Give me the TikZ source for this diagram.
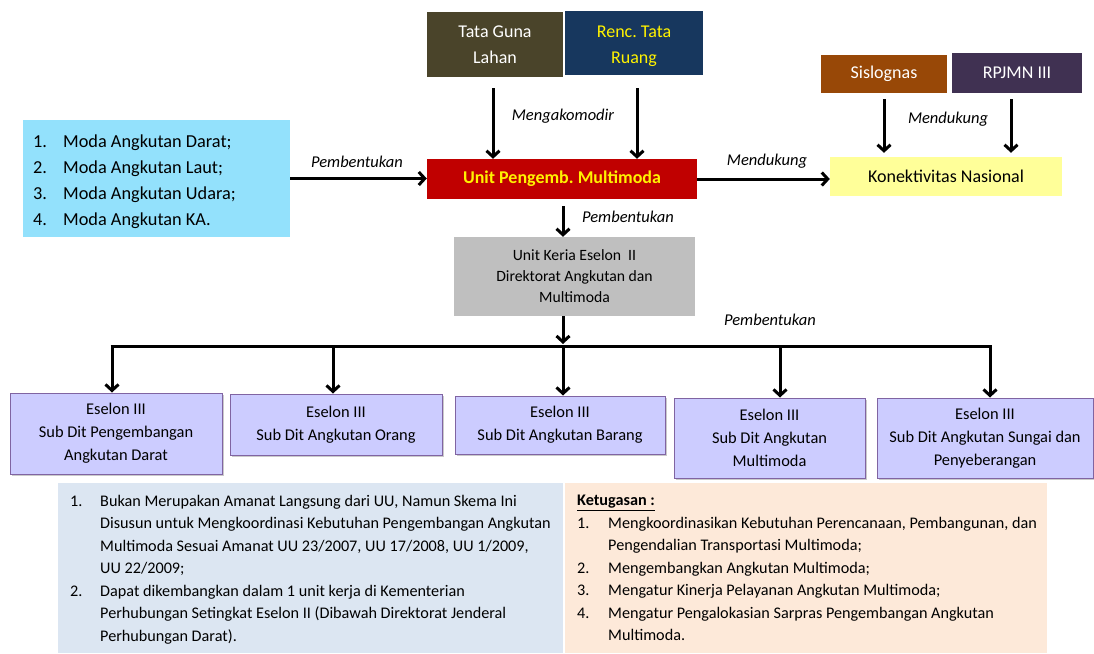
\documentclass[tikz,border=0pt]{standalone}
\usepackage{fontspec}
\setmainfont{Carlito}
\frenchspacing
\usetikzlibrary{arrows.meta,shadows}
\definecolor{olivebox}{RGB}{74,68,42}
\definecolor{navybox}{RGB}{23,55,94}
\definecolor{brownbox}{RGB}{152,72,7}
\definecolor{purplebox}{RGB}{64,49,82}
\definecolor{cyanbox}{RGB}{147,225,252}
\definecolor{redbox}{RGB}{192,0,0}
\definecolor{lightyellow}{RGB}{255,255,153}
\definecolor{graybox}{RGB}{191,191,191}
\definecolor{lavender}{RGB}{204,204,255}
\definecolor{lavborder}{RGB}{128,100,162}
\definecolor{paleblue}{RGB}{220,230,242}
\definecolor{palepeach}{RGB}{253,233,217}
\begin{document}
\begin{tikzpicture}[x=1pt,y=-1pt,
  box/.style={draw=none, inner sep=0pt, align=center, font=\fontsize{18}{26}\selectfont},
  esbox/.style={draw=lavborder, line width=1pt, fill=lavender, inner sep=0pt, align=center,
    font=\fontsize{16.4}{23}\selectfont,
    drop shadow={shadow xshift=2pt, shadow yshift=-2pt, fill=black!35, opacity=0.6}},
  arr/.style={line width=3pt, -{Straight Barb[length=6pt,width=13pt,line width=3pt]}},
  plain/.style={line width=3pt},
  lbl/.style={font=\fontsize{16.5}{18}\selectfont\itshape, inner sep=0pt}
]
\useasboundingbox (0,0) rectangle (1094,653);
% top boxes
\node[box, fill=olivebox, text=white, minimum width=136pt, minimum height=65pt] (tgl) at (495,44.5) {Tata Guna\\Lahan};
\node[box, fill=navybox, minimum width=138pt, minimum height=64pt,
  label={[yshift=-3pt, inner sep=0pt, align=center, text=yellow, font=\fontsize{18}{26}\selectfont]center:{Renc.\ Tata\\Ruang}}] (rtr) at (634,43) {};
\node[box, fill=brownbox, text=white, minimum width=126pt, minimum height=38pt] (sis) at (884,74) {Sislognas};
\node[box, fill=purplebox, text=white, minimum width=130pt, minimum height=40pt] (rpj) at (1017,73) {RPJMN III};
\node[box, fill=cyanbox, minimum width=267pt, minimum height=117pt] (moda) at (156.5,178.5) {};
\node[anchor=north west, inner sep=0pt, align=left, font=\fontsize{18.3}{25.8}\selectfont] (modatext) at (33,135)
  {\makebox[30pt][l]{1.}Moda Angkutan Darat;\\
   \makebox[30pt][l]{2.}Moda Angkutan Laut;\\
   \makebox[30pt][l]{3.}Moda Angkutan Udara;\\
   \makebox[30pt][l]{4.}Moda Angkutan KA.};
\node[box, fill=redbox, text=yellow, minimum width=270pt, minimum height=40pt, font=\fontsize{18}{22}\selectfont\bfseries] (upm) at (562,179) {Unit Pengemb.\ Multimoda};
\node[box, fill=lightyellow, minimum width=232pt, minimum height=39pt] (kon) at (946,176.5) {Konektivitas Nasional};
\node[box, fill=graybox, minimum width=241pt, minimum height=79pt, font=\fontsize{15.7}{21}\selectfont] (uke) at (574.5,276.5) {Unit Keria Eselon\ \ II\\Direktorat Angkutan dan\\Multimoda};
% eselon boxes
\node[esbox, minimum width=212pt, minimum height=81pt] (e1) at (116,433.5) {Eselon III\\Sub Dit Pengembangan\\Angkutan Darat};
\node[esbox, minimum width=212pt, minimum height=61pt] (e2) at (336,424.5) {Eselon III\\Sub Dit Angkutan Orang};
\node[esbox, minimum width=210pt, minimum height=58pt] (e3) at (560,425) {Eselon III\\Sub Dit Angkutan Barang};
\node[esbox, minimum width=191pt, minimum height=80pt] (e4) at (769.5,438) {Eselon III\\Sub Dit Angkutan\\Multimoda};
\node[esbox, minimum width=216pt, minimum height=80pt] (e5) at (985,438) {Eselon III\\Sub Dit Angkutan Sungai dan\\Penyeberangan};
% bottom boxes
\node[box, fill=paleblue, minimum width=505pt, minimum height=170pt] (bl) at (310.5,568) {};
\node[box, fill=palepeach, minimum width=482pt, minimum height=170pt] (br) at (806,568) {};
\node[anchor=north west, inner sep=0pt, align=left, font=\fontsize{16.2}{22.5}\selectfont] (bltext) at (70,495)
  {\makebox[30pt][l]{1.}Bukan Merupakan Amanat Langsung dari UU, Namun Skema Ini\\
   \hspace*{30pt}Disusun untuk Mengkoordinasi Kebutuhan Pengembangan Angkutan\\
   \hspace*{30pt}Multimoda Sesuai Amanat UU 23/2007, UU 17/2008, UU 1/2009,\\
   \hspace*{30pt}UU 22/2009;\\
   \makebox[30pt][l]{2.}Dapat dikembangkan dalam 1 unit kerja di Kementerian\\
   \hspace*{30pt}Perhubungan Setingkat Eselon II (Dibawah Direktorat Jenderal\\
   \hspace*{30pt}Perhubungan Darat).};
\node[anchor=north west, inner sep=0pt, align=left, font=\fontsize{16.2}{22.5}\selectfont] (brtext) at (577,495)
  {\textbf{\underline{Ketugasan :}}\\
   \makebox[31pt][l]{1.}Mengkoordinasikan Kebutuhan Perencanaan, Pembangunan, dan\\
   \hspace*{31pt}Pengendalian Transportasi Multimoda;\\
   \makebox[31pt][l]{2.}Mengembangkan Angkutan Multimoda;\\
   \makebox[31pt][l]{3.}Mengatur Kinerja Pelayanan Angkutan Multimoda;\\
   \makebox[31pt][l]{4.}Mengatur Pengalokasian Sarpras Pengembangan Angkutan\\
   \hspace*{31pt}Multimoda.};
% connectors
\draw[arr] ([xshift=-2pt,yshift=-11pt]tgl.south) -- ([xshift=-2pt]tgl.south |- upm.north);
\draw[arr] ([xshift=3pt,yshift=-13pt]rtr.south) -- ([xshift=3pt]rtr.south |- upm.north);
\draw[arr] ([yshift=-6pt]sis.south) -- ([yshift=4pt]sis.south |- kon.north);
\draw[arr] ([xshift=-6pt,yshift=-6pt]rpj.south) -- ([xshift=-6pt,yshift=4pt]rpj.south |- kon.north);
\draw[arr] (moda.east) -- (upm.west |- moda.east);
\draw[arr] (upm.east) -- (upm.east -| kon.west);
\draw[arr] ([xshift=1pt,yshift=-7pt]upm.south) -- ([xshift=1pt]upm.south |- uke.north);
\coordinate (b1) at (112,346);
\coordinate (b2) at (333,346);
\coordinate (b3) at (563,346);
\coordinate (b4) at (780,346);
\coordinate (b5) at (990,346);
\draw[plain] ([xshift=-1.5pt]b1) -- ([xshift=1.5pt]b5);
\draw[arr] (uke.south -| b3) -- ([yshift=2pt]b3);
\draw[arr] (b1) -- (b1 |- e1.north);
\draw[arr] (b2) -- (b2 |- e2.north);
\draw[arr] (b3) -- (b3 |- e3.north);
\draw[arr] (b4) -- (b4 |- e4.north);
\draw[arr] (b5) -- (b5 |- e5.north);
% labels
\node[lbl] (l1) at (357,162) {Pembentukan};
\node[lbl] (l2) at (563,116) {Mengakomodir};
\node[lbl] (l3) at (767,161) {Mendukung};
\node[lbl] (l4) at (948,119) {Mendukung};
\node[lbl] (l5) at (628,217) {Pembentukan};
\node[lbl] (l6) at (770,320) {Pembentukan};
\end{tikzpicture}
\end{document}
